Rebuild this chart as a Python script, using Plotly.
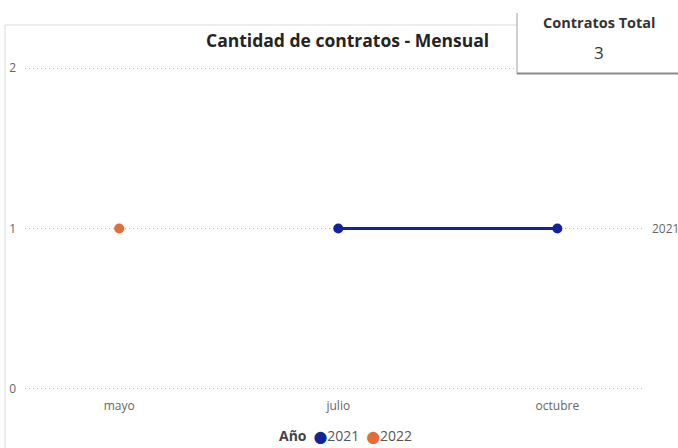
import plotly.graph_objects as go

categories = ["mayo", "julio", "octubre"]
months_2021 = ["julio", "octubre"]
values_2021 = [1, 1]
months_2022 = ["mayo"]
values_2022 = [1]
y_ticks = [0, 1, 2]
series_names = ["2021", "2022"]
kpi_label = "Contratos Total"
kpi_value = "3"

C2021 = "#12239E"
C2022 = "#E66C37"
W, H = 678, 448
L, R, T, B = 25, 645, 60, 397

def px(x):
    return (x - L) / (R - L)

def py(y):
    return (B - y) / (B - T)

fig = go.Figure()
fig.add_trace(go.Scatter(x=months_2021, y=values_2021, mode="lines+markers", name=series_names[0],
                         line=dict(color=C2021, width=3), marker=dict(size=10, color=C2021)))
fig.add_trace(go.Scatter(x=months_2022, y=values_2022, mode="markers", name=series_names[1],
                         marker=dict(size=10, color=C2022)))

font = "Open Sans"
dot = "<span style='color:%s;font-size:12px;font-family:DejaVu Sans'>⬤</span>"
legend_text = ("<span style='color:#444444'><b>Año</b></span>  " + dot + "%s  " + dot + "%s") % (
    C2021, series_names[0], C2022, series_names[1])

fig.update_layout(
    width=W, height=H,
    margin=dict(l=L, r=W - R, t=T, b=H - B, autoexpand=False),
    paper_bgcolor="white", plot_bgcolor="white",
    font=dict(family=font, color="#666666", size=12),
    showlegend=False,
    xaxis=dict(type="category", categoryorder="array", categoryarray=categories,
               range=[-0.43, 2.40], showgrid=False, zeroline=False, showline=False,
               ticks="", tickfont=dict(size=12, color="#666666"), fixedrange=True),
    yaxis=dict(range=[-0.05, 2.05], tickvals=y_ticks, showgrid=True,
               gridcolor="#BBBBBB", griddash="1px,3px", gridwidth=1, zeroline=False,
               showline=False, ticks="", ticklabelstandoff=8,
               tickfont=dict(size=12, color="#666666"), fixedrange=True),
    shapes=[
        dict(type="rect", xref="paper", yref="paper", x0=px(5), x1=px(690), y0=py(460), y1=py(25),
             line=dict(color="#DADADA", width=1), fillcolor="rgba(0,0,0,0)", layer="below"),
        dict(type="rect", xref="paper", yref="paper", x0=px(517), x1=px(690), y0=py(73), y1=py(-5),
             line=dict(width=0), fillcolor="white", layer="above"),
        dict(type="line", xref="paper", yref="paper", x0=px(517), x1=px(517), y0=py(74), y1=py(13),
             line=dict(color="#A0A0A0", width=1), layer="above"),
        dict(type="line", xref="paper", yref="paper", x0=px(517), x1=px(690), y0=py(73.5), y1=py(73.5),
             line=dict(color="#8A8A8A", width=2), layer="above"),
    ],
    annotations=[
        dict(text="<b>Cantidad de contratos - Mensual</b>", xref="paper", yref="paper",
             x=px(347), y=py(40), showarrow=False, xanchor="center", yanchor="middle",
             font=dict(size=17.5, color="#252423", family=font)),
        dict(text="<b>" + kpi_label + "</b>", xref="paper", yref="paper",
             x=px(599), y=py(22), showarrow=False, xanchor="center", yanchor="middle",
             font=dict(size=14.5, color="#333333", family=font)),
        dict(text=kpi_value, xref="paper", yref="paper",
             x=px(599), y=py(52), showarrow=False, xanchor="center", yanchor="middle",
             font=dict(size=17, color="#333333", family=font)),
        dict(text=series_names[0], xref="paper", yref="y",
             x=px(650), y=values_2021[-1], showarrow=False, xanchor="left", yanchor="middle",
             font=dict(size=12, color="#666666", family=font)),
        dict(text=legend_text, xref="paper", yref="paper",
             x=px(345), y=py(436), showarrow=False, xanchor="center", yanchor="middle",
             font=dict(size=14, color="#555555", family=font)),
    ],
)

fig.write_html("out.html", config={"displayModeBar": False},
               post_script="document.body.style.margin='0';document.body.style.overflow='hidden';")
